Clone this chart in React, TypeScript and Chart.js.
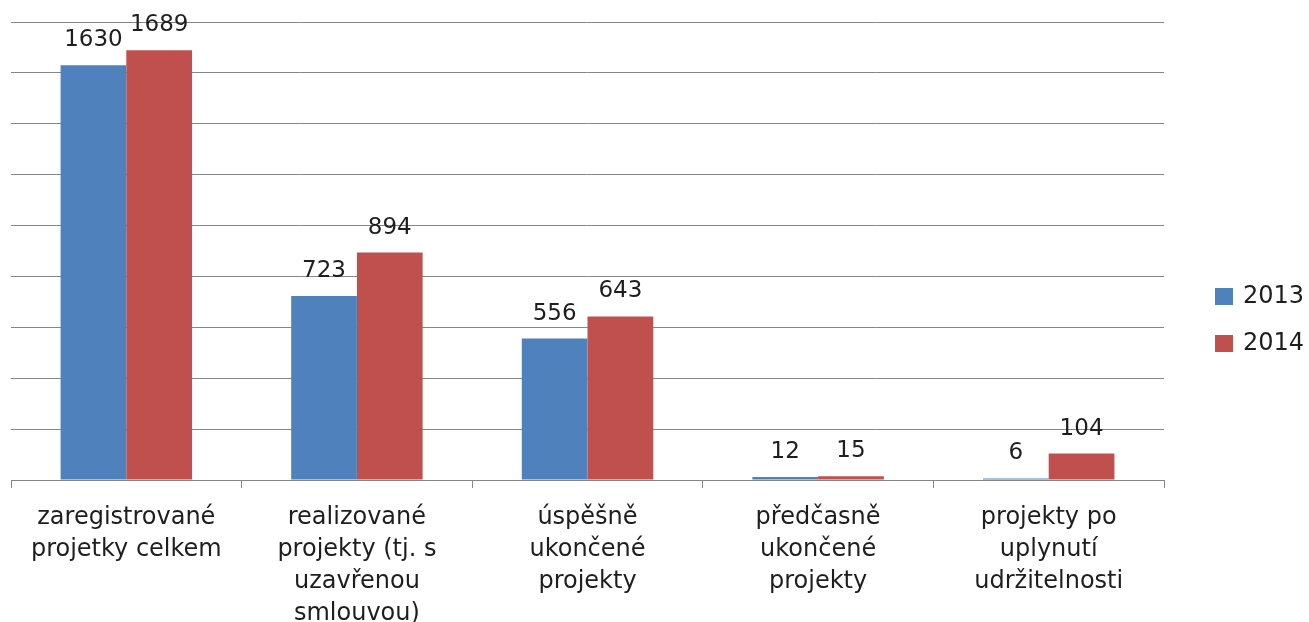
import React, { useEffect, useRef } from "react";
import { Chart, registerables } from "chart.js";

Chart.register(...registerables);

const categories: string[][] = [
  ["zaregistrované", "projetky celkem"],
  ["realizované", "projekty (tj. s", "uzavřenou", "smlouvou)"],
  ["úspěšně", "ukončené", "projekty"],
  ["předčasně", "ukončené", "projekty"],
  ["projekty po", "uplynutí", "udržitelnosti"],
];
const seriesNames = ["2013", "2014"];
const values2013 = [1630, 723, 556, 12, 6];
const values2014 = [1689, 894, 643, 15, 104];
const colors = ["#4F81BD", "#C0504D"];
const yMax = 1800;
const yStep = 200;

const FONT = "'DejaVu Sans', sans-serif";

const valueLabels = {
  id: "valueLabels",
  afterDatasetsDraw(chart: any) {
    const ctx = chart.ctx;
    ctx.save();
    ctx.font = `23px ${FONT}`;
    ctx.fillStyle = "#1e1e1e";
    ctx.textAlign = "center";
    ctx.textBaseline = "alphabetic";
    chart.data.datasets.forEach((ds: any, i: number) => {
      const meta = chart.getDatasetMeta(i);
      meta.data.forEach((bar: any, j: number) => {
        ctx.fillText(String(ds.data[j]), bar.x, bar.y - 19);
      });
    });
    ctx.restore();
  },
};

const customLegend = {
  id: "customLegend",
  afterDraw(chart: any) {
    const ctx = chart.ctx;
    ctx.save();
    ctx.font = `24px ${FONT}`;
    ctx.textAlign = "left";
    ctx.textBaseline = "middle";
    const x = chart.chartArea.right + 51;
    const y0 = 296;
    chart.data.datasets.forEach((ds: any, i: number) => {
      const cy = y0 + i * 47;
      ctx.fillStyle = ds.backgroundColor;
      ctx.fillRect(x, cy - 8, 18, 17);
      ctx.fillStyle = "#1e1e1e";
      ctx.fillText(ds.label, x + 28, cy + 1);
    });
    ctx.restore();
  },
};

export default function App() {
  const ref = useRef<HTMLCanvasElement | null>(null);
  useEffect(() => {
    document.body.style.margin = "0";
    const chart = new Chart(ref.current as HTMLCanvasElement, {
      type: "bar",
      data: {
        labels: categories,
        datasets: [
          { label: seriesNames[0], data: values2013, backgroundColor: colors[0] },
          { label: seriesNames[1], data: values2014, backgroundColor: colors[1] },
        ],
      },
      options: {
        animation: false,
        responsive: true,
        maintainAspectRatio: false,
        layout: { padding: { left: 11, top: 22, right: 145, bottom: 0 } },
        datasets: { bar: { barPercentage: 1, categoryPercentage: 0.57 } },
        plugins: {
          legend: { display: false },
          tooltip: { enabled: false },
        },
        scales: {
          x: {
            offset: true,
            grid: {
              display: true,
              drawOnChartArea: false,
              drawTicks: true,
              tickLength: 8,
              color: "#868686",
              offset: true,
            },
            border: { display: true, color: "#868686" },
            ticks: {
              font: { family: FONT, size: 24, lineHeight: "32px" },
              color: "#1e1e1e",
              maxRotation: 0,
              minRotation: 0,
              autoSkip: false,
              padding: 14,
            },
            afterFit: (scale: any) => {
              scale.height = 142;
            },
          },
          y: {
            min: 0,
            max: yMax,
            ticks: { display: false, stepSize: yStep },
            grid: { color: "#868686", drawTicks: false },
            border: { display: false },
            afterFit: (scale: any) => {
              scale.width = 0;
            },
          },
        },
      },
      plugins: [valueLabels, customLegend],
    });
    return () => chart.destroy();
  }, []);
  return (
    <div style={{ position: "absolute", left: 0, top: 0, width: 1309, height: 622 }}>
      <canvas ref={ref} />
    </div>
  );
}
